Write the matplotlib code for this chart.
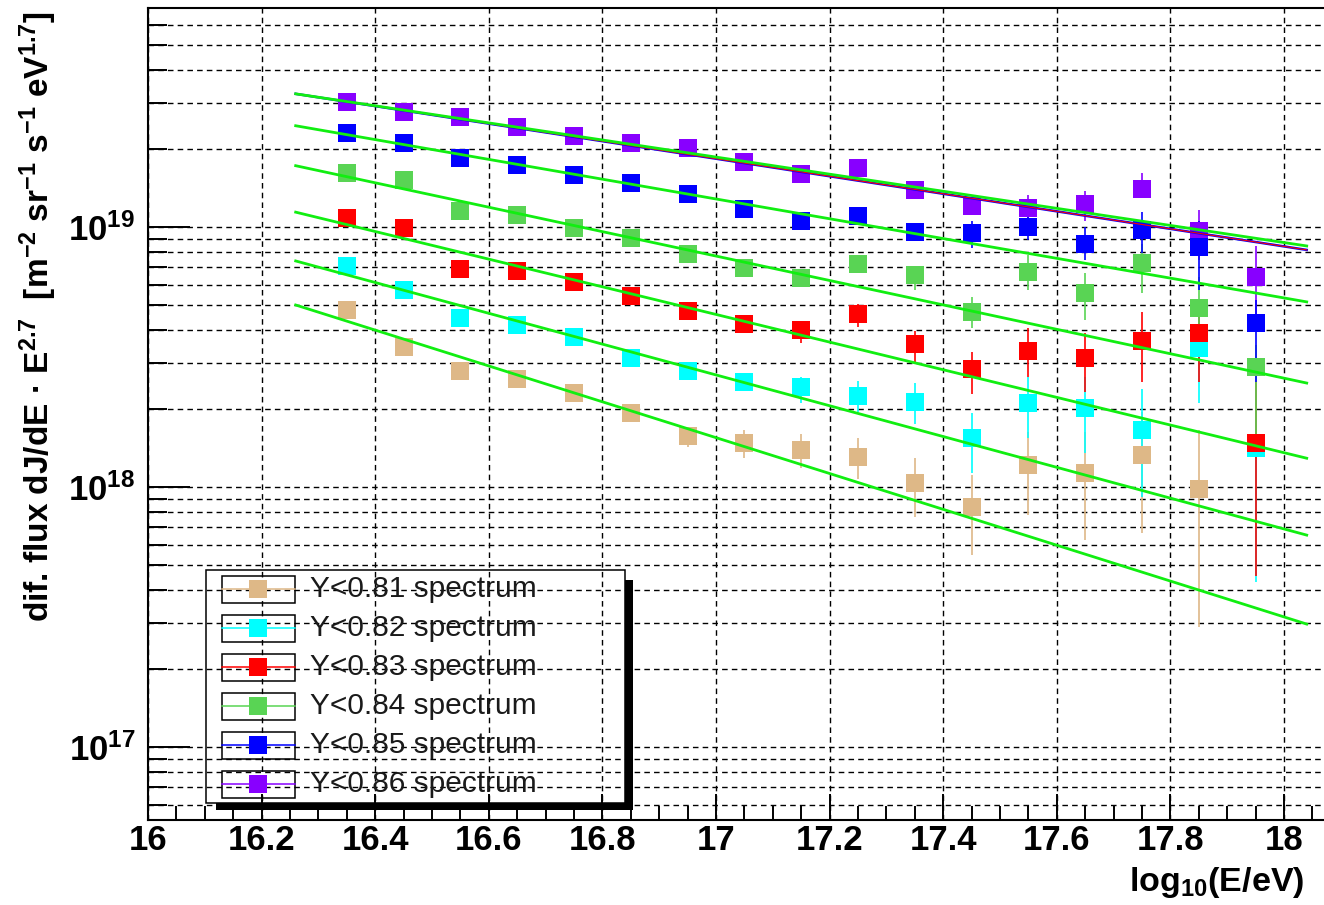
import matplotlib
matplotlib.use('Agg')
import numpy as np
import matplotlib.pyplot as plt
from matplotlib.ticker import MultipleLocator, LogLocator, NullFormatter, FuncFormatter
from matplotlib.patches import Rectangle
from matplotlib.lines import Line2D

plt.rcParams['font.family'] = ['Liberation Sans', 'DejaVu Sans']
plt.rcParams['mathtext.fontset'] = 'custom'
plt.rcParams['mathtext.rm'] = 'Liberation Sans:bold'
plt.rcParams['mathtext.bf'] = 'Liberation Sans:bold'
plt.rcParams['mathtext.it'] = 'Liberation Sans:bold:italic'
plt.rcParams['mathtext.default'] = 'rm'

# bin centres log10(E/eV)
energy = [16.35, 16.45, 16.55, 16.65, 16.75, 16.85, 16.95, 17.05, 17.15,
          17.25, 17.35, 17.45, 17.55, 17.65, 17.75, 17.85, 17.95]

labels = ['Y<0.81 spectrum', 'Y<0.82 spectrum', 'Y<0.83 spectrum',
          'Y<0.84 spectrum', 'Y<0.85 spectrum', 'Y<0.86 spectrum']
colors = ['#DEB887', '#00FFFF', '#FF0000', '#59D454', '#0000FF', '#8800FF']

# flux * E^2.7 and lower / upper error bounds
y81 = [4.80e18, 3.45e18, 2.79e18, 2.60e18, 2.30e18, 1.93e18, 1.57e18, 1.48e18,
       1.39e18, 1.30e18, 1.04e18, 8.38e17, 1.22e18, 1.13e18, 1.33e18, 9.82e17]
lo81 = [4.80e18, 3.45e18, 2.79e18, 2.60e18, 2.30e18, 1.93e18, 1.43e18, 1.29e18,
        1.18e18, 1.07e18, 7.67e17, 5.47e17, 7.80e17, 6.25e17, 6.66e17, 2.90e17]
hi81 = [4.80e18, 3.45e18, 2.79e18, 2.60e18, 2.30e18, 1.93e18, 1.69e18, 1.66e18,
        1.60e18, 1.54e18, 1.29e18, 1.11e18, 1.63e18, 1.63e18, 1.94e18, 1.66e18]

y82 = [7.08e18, 5.73e18, 4.47e18, 4.20e18, 3.78e18, 3.13e18, 2.79e18, 2.53e18,
       2.43e18, 2.24e18, 2.12e18, 1.54e18, 2.10e18, 2.01e18, 1.66e18, 3.43e18, 1.41e18]
lo82 = [7.08e18, 5.73e18, 4.47e18, 4.20e18, 3.78e18, 3.13e18, 2.79e18, 2.53e18,
        2.10e18, 1.94e18, 1.75e18, 1.13e18, 1.54e18, 1.35e18, 9.16e17, 2.10e18, 4.32e17]
hi82 = [7.08e18, 5.73e18, 4.47e18, 4.20e18, 3.78e18, 3.13e18, 2.79e18, 2.53e18,
        2.65e18, 2.56e18, 2.51e18, 1.93e18, 2.65e18, 2.65e18, 2.38e18, 5.24e18, 2.51e18]

y83 = [1.08e19, 9.91e18, 6.89e18, 6.77e18, 6.14e18, 5.43e18, 4.76e18, 4.24e18,
       4.02e18, 4.62e18, 3.55e18, 2.84e18, 3.33e18, 3.13e18, 3.65e18, 3.91e18, 1.48e18]
lo83 = [1.08e19, 9.91e18, 6.89e18, 6.77e18, 6.14e18, 5.43e18, 4.76e18, 4.24e18,
        3.58e18, 4.12e18, 3.03e18, 2.28e18, 2.65e18, 2.32e18, 2.53e18, 2.53e18, 4.55e17]
hi83 = [1.08e19, 9.91e18, 6.89e18, 6.77e18, 6.14e18, 5.43e18, 4.76e18, 4.24e18,
        4.27e18, 5.06e18, 3.98e18, 3.30e18, 4.09e18, 3.91e18, 4.71e18, 5.24e18, 2.53e18]

y84 = [1.61e19, 1.52e19, 1.15e19, 1.11e19, 9.91e18, 9.08e18, 7.87e18, 6.95e18,
       6.37e18, 7.21e18, 6.53e18, 4.71e18, 6.71e18, 5.57e18, 7.28e18, 4.88e18, 2.90e18]
lo84 = [1.61e19, 1.52e19, 1.15e19, 1.11e19, 9.91e18, 9.08e18, 7.87e18, 6.95e18,
        5.90e18, 6.90e18, 5.73e18, 4.09e18, 5.73e18, 4.38e18, 5.57e18, 3.52e18, 1.48e18]
hi84 = [1.61e19, 1.52e19, 1.15e19, 1.11e19, 9.91e18, 9.08e18, 7.87e18, 6.95e18,
        6.90e18, 7.55e18, 7.02e18, 5.38e18, 7.80e18, 6.65e18, 8.60e18, 6.43e18, 3.52e18]

y85 = [2.30e19, 2.10e19, 1.84e19, 1.73e19, 1.58e19, 1.48e19, 1.34e19, 1.17e19,
       1.05e19, 1.10e19, 9.57e18, 9.48e18, 1.00e19, 8.60e18, 9.73e18, 8.38e18, 4.27e18]
lo85 = [2.30e19, 2.10e19, 1.84e19, 1.73e19, 1.58e19, 1.48e19, 1.34e19, 1.17e19,
        1.01e19, 1.05e19, 9.20e18, 8.30e18, 8.91e18, 7.46e18, 7.94e18, 5.73e18, 2.53e18]
hi85 = [2.30e19, 2.10e19, 1.84e19, 1.73e19, 1.58e19, 1.48e19, 1.34e19, 1.17e19,
        1.10e19, 1.15e19, 9.95e18, 1.05e19, 1.09e19, 1.00e19, 1.14e19, 1.05e19, 5.24e18]

y86 = [3.03e19, 2.77e19, 2.65e19, 2.42e19, 2.24e19, 2.10e19, 2.01e19, 1.78e19,
       1.60e19, 1.69e19, 1.39e19, 1.20e19, 1.18e19, 1.23e19, 1.40e19, 9.66e18, 6.43e18]
lo86 = [3.03e19, 2.77e19, 2.65e19, 2.42e19, 2.24e19, 2.10e19, 2.01e19, 1.78e19,
        1.60e19, 1.69e19, 1.39e19, 1.12e19, 1.06e19, 1.05e19, 1.29e19, 7.46e18, 4.32e18]
hi86 = [3.03e19, 2.77e19, 2.65e19, 2.42e19, 2.24e19, 2.10e19, 2.01e19, 1.78e19,
        1.60e19, 1.69e19, 1.39e19, 1.29e19, 1.33e19, 1.38e19, 1.61e19, 1.16e19, 8.45e18]

# power-law fits, drawn between these two energies
fit_x = [16.26, 18.04]
fit81 = [5.01e18, 2.97e17]
fit82 = [7.40e18, 6.53e17]
fit83 = [1.14e19, 1.29e18]
fit84 = [1.72e19, 2.51e18]
fit85 = [2.45e19, 5.15e18]
fit86 = [3.25e19, 8.45e18]
fit86b = [3.25e19, 8.16e18]

W, H = 1324, 905
fig = plt.figure(figsize=(W / 100, H / 100), dpi=100)
ax = fig.add_axes([148 / W, 85 / H, 1182 / W, 812 / H])
ax.set_yscale('log')
ax.set_xlim(16.0, 18.081)
ax.set_ylim(5.24e16, 6.95e19)

series = [(y81, lo81, hi81), (y82, lo82, hi82), (y83, lo83, hi83),
          (y84, lo84, hi84), (y86, lo86, hi86), (y85, lo85, hi85)]
order = [0, 1, 2, 3, 5, 4]
for (yv, lo, hi), k in zip(series, order):
    yv = np.array(yv)
    xv = energy[:len(yv)]
    err = [yv - np.array(lo), np.array(hi) - yv]
    ax.errorbar(xv, yv, yerr=err, fmt='s', color=colors[k], ms=13, mew=0,
                elinewidth=1.2, capsize=4, capthick=1.8, zorder=3)

ax.plot(fit_x, fit86b, color='#0000FF', lw=1.8, zorder=4)
ax.plot(fit_x, fit86b, color='#FF0000', lw=0.8, zorder=4)
for f in [fit81, fit82, fit83, fit84, fit85, fit86]:
    ax.plot(fit_x, f, color='#11EE11', lw=2.0, zorder=5)

# axes styling, ROOT-like
ax.set_axisbelow(True)
ax.xaxis.set_major_locator(MultipleLocator(0.2))
ax.xaxis.set_minor_locator(MultipleLocator(0.05))
ax.xaxis.set_major_formatter(FuncFormatter(lambda v, p: '%g' % round(v, 1)))
ax.yaxis.set_major_locator(LogLocator(base=10, numticks=10))
ax.yaxis.set_minor_locator(LogLocator(base=10, subs=np.arange(2, 10), numticks=20))
ax.yaxis.set_major_formatter(FuncFormatter(lambda v, p: r'$10^{%d}$' % round(np.log10(v))))
ax.yaxis.set_minor_formatter(NullFormatter())

ax.tick_params(axis='x', which='major', direction='in', length=19, width=1.4,
               labelsize=25, pad=3)
ax.tick_params(axis='x', which='minor', direction='in', length=10, width=1.4)
ax.tick_params(axis='y', which='major', direction='in', length=30, width=1.4,
               labelsize=25, pad=9)
ax.tick_params(axis='y', which='minor', direction='in', length=14, width=1.4)
for lab in ax.get_xticklabels() + ax.get_yticklabels():
    lab.set_fontweight('bold')
for s in ax.spines.values():
    s.set_linewidth(1.5)

ax.grid(True, axis='x', which='major', color='black', lw=1.0, ls=(0, (4, 3)))
ax.grid(True, axis='y', which='both', color='black', lw=1.0, ls=(0, (4, 3)))

fig.text(38 / W, 1 - 317 / H,
         'dif. flux dJ/dE · E$^{2.7}$  [m$^{-2}$ sr$^{-1}$ s$^{-1}$ eV$^{1.7}$]',
         rotation=90, ha='center', va='center', fontsize=24, fontweight='bold')
fig.text(1304 / W, 1 - 891 / H, 'log$_{10}$(E/eV)', ha='right', va='baseline',
         fontsize=24.5, fontweight='bold')

# legend box with shadow
def px(x, y):
    return x / W, 1 - y / H

fig.add_artist(Rectangle(px(625, 810), 8 / W, 230 / H, transform=fig.transFigure,
                         color='black', lw=0))
fig.add_artist(Rectangle(px(216, 810), 417 / W, 7 / H, transform=fig.transFigure,
                         color='black', lw=0))
fig.add_artist(Rectangle(px(206, 803), 419 / W, 233 / H, transform=fig.transFigure,
                         fill=False, ec='black', lw=1.1))
rows = [589, 628, 667, 706, 745, 784]
for r, lab, c in zip(rows, labels, colors):
    fig.add_artist(Rectangle(px(222, r + 13.5), 73 / W, 27 / H, transform=fig.transFigure,
                             fill=False, ec='black', lw=1.1))
    fig.add_artist(Line2D([222 / W, 295 / W], [1 - r / H, 1 - r / H], color=c, lw=1.1,
                          transform=fig.transFigure))
    fig.add_artist(Line2D([258 / W], [1 - r / H], marker='s', ms=13, mew=0, color=c,
                          transform=fig.transFigure))
    fig.text(310 / W, 1 - r / H, lab, ha='left', va='center', fontsize=21.5,
             color='#1a1a1a')

fig.savefig('out.png', dpi=100)
